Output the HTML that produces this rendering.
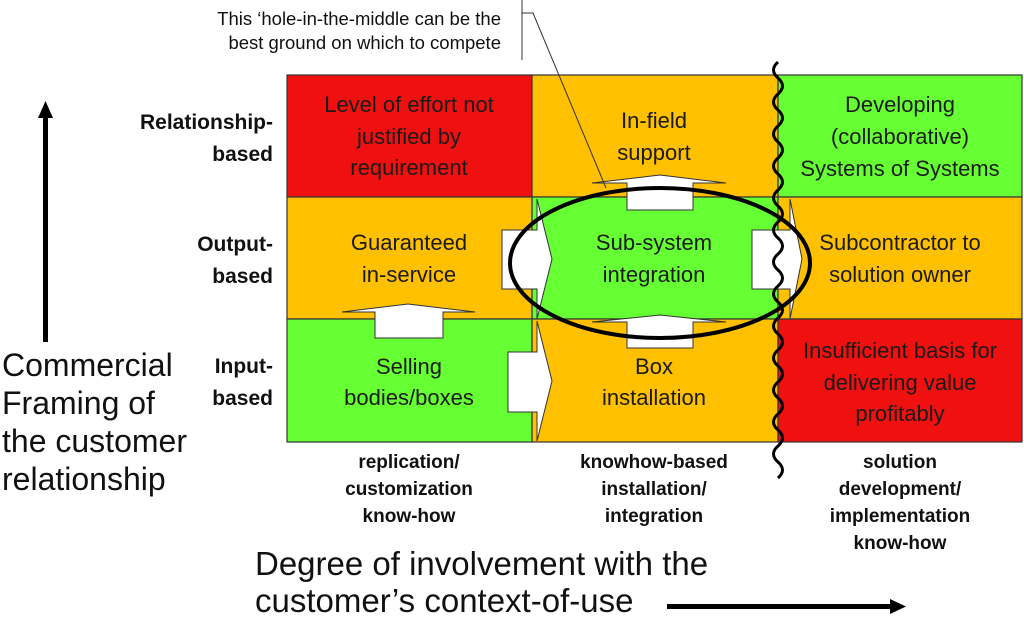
<!DOCTYPE html>
<html><head><meta charset="utf-8"><style>
html,body{margin:0;padding:0;background:#fff;}
svg{display:block;}
.c{font-family:"Liberation Sans",sans-serif;font-size:22px;fill:#1a1a1a;text-anchor:middle;}
.b{font-family:"Liberation Sans",sans-serif;font-weight:bold;fill:#111;}
.a{font-family:"Liberation Sans",sans-serif;fill:#111;}
</style></head><body>
<svg width="1024" height="618" viewBox="0 0 1024 618" xmlns="http://www.w3.org/2000/svg">
<g stroke="#333" stroke-width="1.2">
<rect x="287" y="75" width="245" height="122" fill="#f01010"/>
<rect x="532" y="75" width="246" height="122" fill="#ffc000"/>
<rect x="778" y="75" width="244" height="122" fill="#66ff33"/>
<rect x="287" y="197" width="245" height="122" fill="#ffc000"/>
<rect x="532" y="197" width="246" height="122" fill="#66ff33"/>
<rect x="778" y="197" width="244" height="122" fill="#ffc000"/>
<rect x="287" y="319" width="245" height="123" fill="#66ff33"/>
<rect x="532" y="319" width="246" height="123" fill="#ffc000"/>
<rect x="778" y="319" width="244" height="123" fill="#f01010"/>
</g>
<g fill="#fff" stroke="#333" stroke-width="1">
<polygon points="375,338 375,312 342,312 408,304 475,312 443,312 443,338"/>
<polygon points="627,210 627,183 592,183 660,175 726,183 693,183 693,210"/>
<polygon points="627,348 627,322 592,322 660,315 726,322 693,322 693,348"/>
<polygon points="502,230 537,230 537,199 552,259 537,319 537,289 502,289"/>
<polygon points="508,352 537,352 537,321 552,381 537,441 537,412 508,412"/>
<polygon points="752,230 790,230 790,199 802,259 790,319 790,289 752,289"/>
</g>
<ellipse cx="660" cy="263" rx="150" ry="75" fill="none" stroke="#000" stroke-width="4"/>
<path d="M778,62 q-9,8 0,16 t0,16 t0,16 t0,16 t0,16 t0,16 t0,16 t0,16 t0,16 t0,16 t0,16 t0,16 t0,16 t0,16 t0,16 t0,16 t0,16 t0,16 t0,16 t0,16 t0,16 t0,16 t0,16 t0,16 t0,16 t0,16" fill="none" stroke="#000" stroke-width="3"/>
<path d="M522,0 V60 M522,13 H533 L606,188" fill="none" stroke="#333" stroke-width="1"/>
<text class="a" font-size="18.5" text-anchor="end" x="501" y="25">This ‘hole-in-the-middle can be the</text>
<text class="a" font-size="18.5" text-anchor="end" x="501" y="49">best ground on which to compete</text>
<text class="c" x="409" y="112">Level of effort not</text>
<text class="c" x="409" y="144">justified by</text>
<text class="c" x="409" y="175">requirement</text>
<text class="c" x="654" y="128">In-field</text>
<text class="c" x="654" y="160">support</text>
<text class="c" x="900" y="112">Developing</text>
<text class="c" x="900" y="144">(collaborative)</text>
<text class="c" x="900" y="176">Systems of Systems</text>
<text class="c" x="409" y="250">Guaranteed</text>
<text class="c" x="409" y="282">in-service</text>
<text class="c" x="654" y="250">Sub-system</text>
<text class="c" x="654" y="282">integration</text>
<text class="c" x="900" y="250">Subcontractor to</text>
<text class="c" x="900" y="282">solution owner</text>
<text class="c" x="409" y="374">Selling</text>
<text class="c" x="409" y="405">bodies/boxes</text>
<text class="c" x="654" y="374">Box</text>
<text class="c" x="654" y="405">installation</text>
<text class="c" x="900" y="358">Insufficient basis for</text>
<text class="c" x="900" y="390">delivering value</text>
<text class="c" x="900" y="421">profitably</text>
<g class="b" text-anchor="end" style="font-size:21px">
<text x="273" y="129">Relationship-</text>
<text x="273" y="161">based</text>
<text x="273" y="251">Output-</text>
<text x="273" y="283">based</text>
<text x="273" y="373">Input-</text>
<text x="273" y="405">based</text>
</g>
<g class="b" text-anchor="middle" style="font-size:19px">
<text x="409" y="468">replication/</text>
<text x="409" y="495">customization</text>
<text x="409" y="522">know-how</text>
<text x="654" y="468">knowhow-based</text>
<text x="654" y="495">installation/</text>
<text x="654" y="522">integration</text>
<text x="900" y="468">solution</text>
<text x="900" y="495">development/</text>
<text x="900" y="522">implementation</text>
<text x="900" y="549">know-how</text>
</g>
<rect x="43" y="116" width="5" height="226" fill="#000"/>
<polygon points="38,118 45.5,101 53,118" fill="#000"/>
<g class="a" font-size="32">
<text x="2" y="376">Commercial</text>
<text x="2" y="414">Framing of</text>
<text x="2" y="452">the customer</text>
<text x="2" y="490">relationship</text>
</g>
<g class="a" font-size="33">
<text x="255" y="575">Degree of involvement with the</text>
<text x="255" y="612">customer’s context-of-use</text>
</g>
<rect x="667" y="604" width="226" height="5" fill="#000"/>
<polygon points="890,599 906,606.5 890,614" fill="#000"/>
</svg>
</body></html>
